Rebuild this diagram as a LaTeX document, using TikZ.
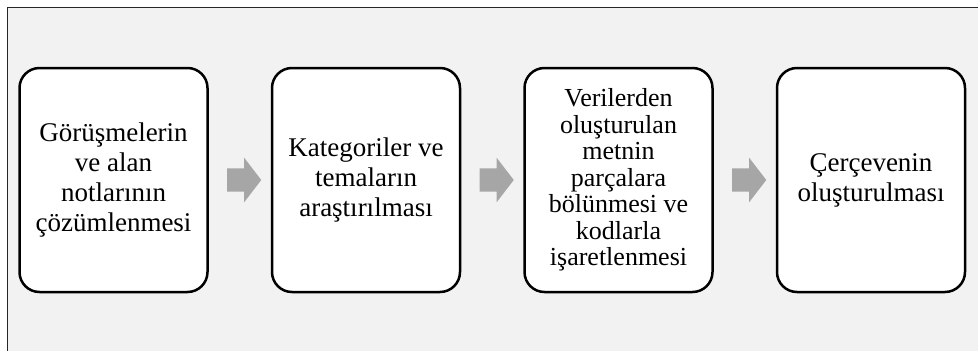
\documentclass[tikz,border=0pt]{standalone}
\usepackage{fontspec}
\setmainfont{Liberation Serif}
\usetikzlibrary{positioning,shapes.arrows,calc}
\definecolor{PanelClr}{RGB}{242,242,242}
\definecolor{ArrowClr}{RGB}{166,166,166}
\definecolor{FrameClr}{RGB}{38,38,38}

\begin{document}
\begin{tikzpicture}[x=1pt,y=-1pt,node distance=62pt,
  stepbox/.style={draw=black,line width=2.5pt,fill=white,rounded corners=20pt,
    minimum width=188pt,minimum height=224pt,inner sep=0pt,align=center,
    font=\fontsize{27}{30}\selectfont},
  blockarrow/.style={single arrow,fill=ArrowClr,draw=none,inner xsep=0pt,inner ysep=11.5pt,
    minimum height=34pt,single arrow head extend=10.5pt,single arrow tip angle=105}]
\useasboundingbox (0,0) rectangle (978,351);
\fill[white] (0,0) rectangle (978,351);
\fill[PanelClr] (7,7) rectangle (978,351);
\draw[line width=1pt,FrameClr] (7,351) -- (7,7) -- (978,7);

\node[stepbox] (S1) at (113.5,180) {Görüşmelerin\\ve alan\\notlarının\\çözümlenmesi};
\node[stepbox,right=of S1] (S2) {Kategoriler ve\\temaların\\araştırılması};
\node[stepbox,right=of S2,font=\fontsize{26}{26.5}\selectfont] (S3) {Verilerden\\oluşturulan\\metnin\\parçalara\\bölünmesi ve\\kodlarla\\işaretlenmesi};
\node[stepbox,right=of S3] (S4) {Çerçevenin\\oluşturulması};

\node[blockarrow] (A1) at ($(S1.east)!.5!(S2.west)$) {};
\node[blockarrow] (A2) at ($(S2.east)!.5!(S3.west)$) {};
\node[blockarrow] (A3) at ($(S3.east)!.5!(S4.west)$) {};

\end{tikzpicture}
\end{document}
